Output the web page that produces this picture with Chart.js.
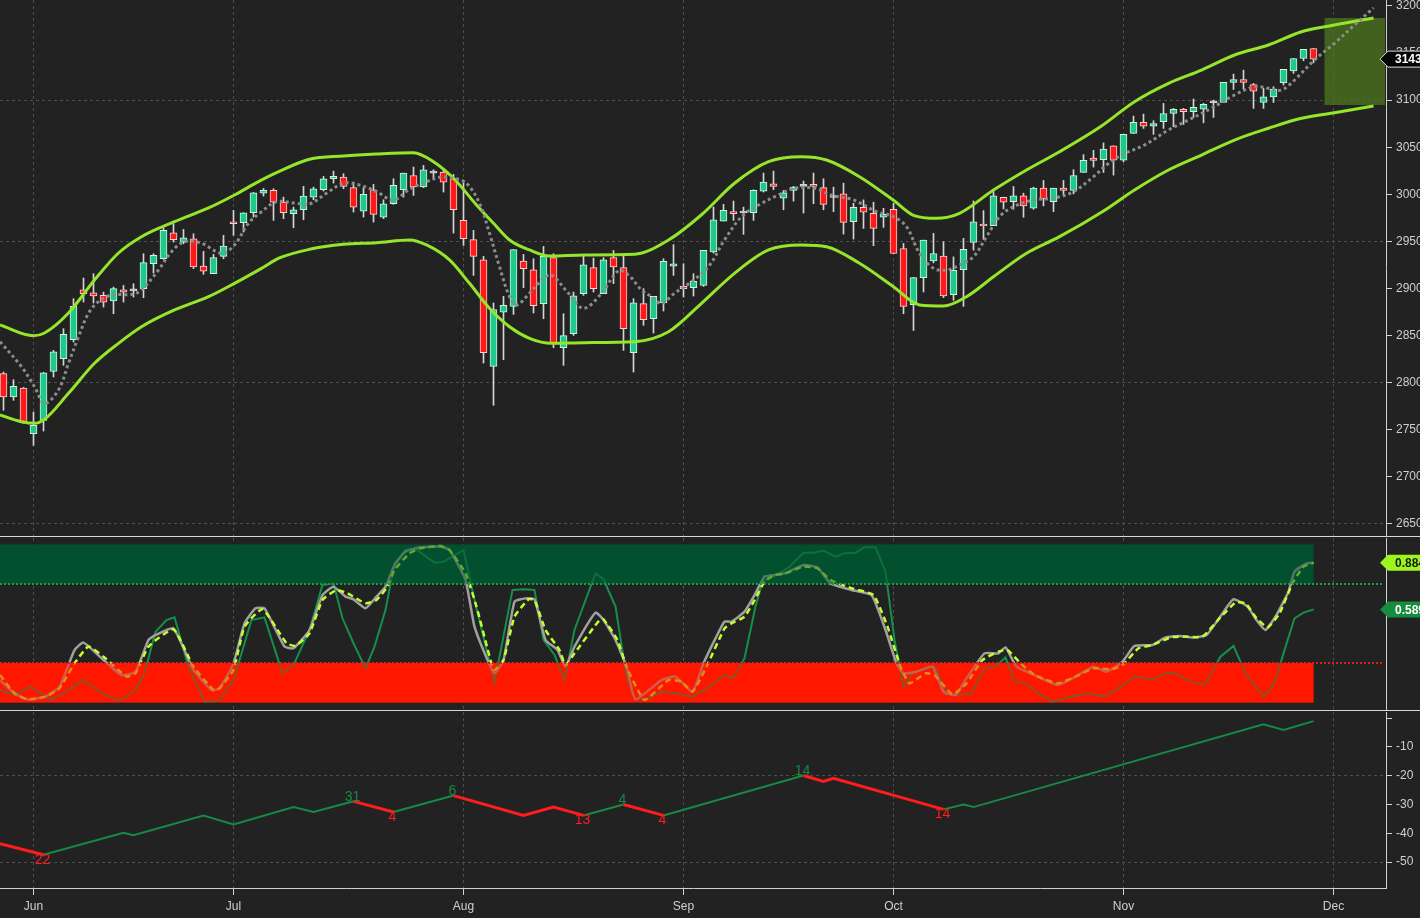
<!DOCTYPE html>
<html>
<head>
<meta charset="utf-8">
<script src="https://cdn.jsdelivr.net/npm/chart.js@4.4.1/dist/chart.umd.min.js"></script>
<style>
html, body { margin:0; padding:0; background:#222222; overflow:hidden; }
#wrap { position:relative; width:1420px; height:918px; background:#222222; }
canvas { position:absolute; left:0; display:block; }
</style>
</head>
<body>
<div id="wrap">
  <canvas id="price" width="1420" height="537" style="top:0px"></canvas>
  <canvas id="stoch" width="1420" height="174" style="top:537px"></canvas>
  <canvas id="zigzag" width="1420" height="207" style="top:711px"></canvas>
</div>
<script>
// ---- data ----
const xMin = -3.35
const xMax = 135.25
const monthIdx = [0, 20, 43, 65, 86, 109, 130]
const monthLabels = ["Jun", "Jul", "Aug", "Sep", "Oct", "Nov", "Dec"]

const priceTicks = [2650, 2700, 2750, 2800, 2850, 2900, 2950, 3000, 3050, 3100, 3150, 3200]
const priceGrid = [2650, 2800, 2950, 3100]
const zzTicks = [-50, -40, -30, -20, -10, 0]
const zzGrid = [-50, -20]

// candles, first one sits at index -3 (Jun 3 = 0)
const candleStart = -3
const opens = [2809.6,2784.8,2794.4,2745.9,2760,2812,2825.5,2845.6,2898.7,2895.5,2892.7,2886.7,2898.7,2897.5,2899.8,2926.3,2931.6,2959.2,2949.3,2952.8,2923.8,2915.7,2934.1,2970.9,2969.8,2980.4,3001.3,3004.1,2991.7,2979.4,2983.6,2997,3004.8,3016.5,3018.3,3007,2982.2,3004.8,2975.8,2990,3004.8,3020,3007.7,3022.5,3023.6,3016.5,2972.3,2951.8,2930.5,2817.3,2875,2881,2929.1,2919.9,2883.9,2932.7,2837.2,2852,2894.5,2922.1,2894.5,2932.7,2922.1,2831.9,2883.9,2867.9,2884.6,2923.8,2902.2,2900.8,2903.3,2938.7,2971.6,2981.5,2980.1,2980.4,3003.4,3011.2,2996,3004.1,3008.4,3010.5,3007,2996.6,3000.5,2970.9,2986.2,2979.8,2975.6,2984.1,2942.5,2882.8,2911.6,2929.4,2934.3,2893.5,2920.1,2948.9,2968.5,2966.7,2996.9,2992.3,2998.3,2985.2,3006.5,2992.3,3006.5,3004,3023.2,3038.5,3036.7,3051.5,3036.3,3064.6,3076.3,3072.4,3077,3085.8,3090.1,3087.6,3090.4,3097.2,3097.5,3118.8,3121.9,3116.6,3097.5,3103.5,3118.4,3131.1,3144.2,3154.8]
const highs = [2811.3,2803.2,2795,2768.9,2811,2834.3,2857.3,2889.2,2911.1,2915.7,2896.2,2901.5,2903.3,2905.1,2936.9,2936.9,2964.5,2968.7,2962.7,2958.1,2939.4,2936.2,2956.4,2982.9,2980.4,3002,3006.2,3005.9,2997,2986.4,3008.4,3007.7,3019,3024.6,3021.8,3013,3007,3010.5,2994.2,3016.5,3022.5,3028.9,3030.7,3026.1,3026.1,3021.1,3014.7,2961.7,2934.1,2884.6,2891.6,2941.2,2936.2,2931.6,2944.7,2936.9,2873.2,2896.2,2934.1,2932.3,2932.7,2940.4,2935.1,2889.2,2899.8,2891.6,2931.6,2946.5,2926.3,2915.7,2940.4,2986.4,2989.3,2992.8,2986.4,3004.8,3022.5,3024.6,3004.1,3008.4,3014,3022.5,3016.5,3007.6,3011.8,2990.5,2994.1,2991.6,2985.2,2990.5,2947.8,2911.6,2951.4,2958.5,2949.6,2933.6,2953.2,2993,2982.7,3003,2997,3008.3,3001.2,3007.6,3014.7,3006.5,3014.7,3026.1,3042.1,3046.7,3054.5,3051.5,3063.6,3083,3085.1,3078.1,3096.5,3091.2,3091.2,3101.1,3096.5,3100,3118.8,3127.6,3131.8,3117.7,3112.4,3114.2,3132.6,3144.2,3153.8,3154.8]
const lows = [2770.7,2781.3,2757,2733.5,2748.7,2806,2818.4,2843.2,2885.6,2884.6,2880.3,2873.2,2885.6,2890.9,2890.2,2916.4,2931,2949.3,2947.5,2921,2915,2915.7,2931.6,2956.4,2959.9,2975.8,2998.1,2972.3,2974.1,2964.5,2973,2994.2,3003.4,3011.9,3005.9,2981.1,2975.8,2970.5,2974.1,2989.3,2997,2998.8,3007,3017.6,3002.4,2958.8,2945.8,2913.9,2820.9,2776,2824.4,2872.5,2900.8,2874,2867.9,2837.2,2818.4,2850.2,2892.7,2896.2,2894.5,2905.1,2834.3,2811.3,2860.9,2852.7,2876.1,2913.9,2890.9,2892,2902.2,2937.6,2971.6,2972.3,2957.4,2972.3,3002.4,3004.8,2983.6,2992.8,2980.1,2990,2983.6,2981.6,2957.8,2952.5,2963.8,2945.4,2964.9,2937.2,2873.2,2855.4,2896.3,2927.2,2890.3,2887.4,2881,2940.7,2952.1,2966.7,2984.5,2984.1,2975.6,2984.1,2987.7,2981.6,2999.4,3000.5,3023.2,3028.9,3023.2,3020.4,3034.5,3064.6,3069.9,3063.6,3069.9,3071.7,3074.2,3081.6,3075.9,3081.6,3097.5,3111.3,3111.7,3091.2,3091.2,3097.5,3115.9,3128.3,3141.8,3139.6]
const closes = [2784.8,2796.1,2757.2,2754.7,2810.6,2832.9,2851.3,2881,2894.5,2892,2885.6,2899.8,2896.2,2897.5,2927.4,2935.1,2961.7,2951.8,2953.9,2922.8,2918.5,2932.7,2945,2968.7,2980.4,3001.6,3004.1,2991.7,2980.4,2983.6,2998.1,3005.9,3016.5,3019,3008.4,2986.4,2999.9,2978.7,2990,3009.4,3022.5,3007.7,3026.1,3022.5,3013,2983.6,2952.8,2934.1,2831.9,2877.5,2882.1,2941.2,2921,2881.7,2934.1,2842.1,2849.9,2892.3,2925.2,2899.8,2930.5,2922.8,2857.3,2884.9,2866.9,2891.6,2928.8,2926.3,2899.8,2907.6,2940.4,2973,2982.9,2979.4,2980.1,3004.1,3013,3008.4,3001.6,3007.7,3008.4,3008.4,2989.3,2996.6,2970.2,2986.2,2980.9,2963.8,2978.8,2937.2,2881,2911.6,2951.4,2937.2,2892,2919.4,2941.5,2970.9,2966.3,2998.3,2991.6,2998.3,2987.7,3006.5,2995.1,3006.5,3004,3020,3036,3036,3048.1,3036.3,3063.6,3076.3,3072.4,3075.2,3085.8,3090.1,3087.6,3092.2,3095.4,3097.2,3118.8,3121.9,3118.8,3109.6,3103.5,3111.7,3132.6,3144.2,3153.8,3143.5]

// envelope and dotted average, [bar index, price]
const bandUpper = [[-3.35,2861.3],[0,2849.9],[1.1,2852.8],[3.5,2874],[6.1,2909],[8.5,2937.7],[10.8,2955],[14.1,2970.9],[17.5,2985.5],[20.1,2999.3],[22.5,3013.4],[24.3,3022.9],[27.6,3037.2],[31,3040.7],[34.3,3042.8],[38,3044.2],[40,3034.6],[42,3017],[44.3,2988.7],[46,2969.2],[47.6,2951.5],[49.6,2940.9],[51.6,2934.5],[55.1,2935.6],[60.1,2936.3],[63.5,2951.5],[66.8,2978.3],[70.1,3011.7],[73.5,3034.6],[76.8,3039.9],[79.3,3036.4],[82.6,3018.7],[86,2993.6],[88,2977.7],[90.3,2974.5],[92.6,2979.8],[96,3004.5],[99.3,3025.8],[102.6,3045.2],[106.8,3072.5],[110.1,3098.3],[113.5,3117.8],[116.8,3131.9],[120.1,3147.9],[123.5,3158.5],[126.8,3172.6],[130.1,3179.7],[134,3187.2]]
const bandLower = [[-3.35,2765.7],[-1.2,2758.6],[0.1,2756.9],[1.1,2761.1],[3.5,2788.7],[6.1,2820.6],[8.5,2841.8],[10.8,2859.4],[14.1,2877.2],[17.5,2891.3],[20.1,2905.5],[22.8,2921.4],[24.6,2932.4],[27.6,2941.6],[31,2946.9],[34.3,2948.6],[37.6,2951.5],[39.3,2946.2],[41.6,2930.3],[43.6,2905.5],[45.6,2879],[47.6,2859.4],[49.6,2847.1],[51.8,2841.8],[55.1,2842.5],[60.1,2843.5],[63.5,2854.1],[66.8,2884.3],[70.1,2916.1],[73.5,2940.9],[76.8,2946.2],[79.3,2944.4],[82.6,2926.8],[86,2901.9],[88.6,2882.5],[91,2881.4],[93.3,2891.3],[96,2912.5],[99.3,2937.4],[102.6,2955],[107,2982.3],[110.1,3004.6],[113.5,3025.8],[116.8,3041.7],[120.1,3057.6],[123.5,3070.1],[126.8,3080.7],[130.1,3086.6],[134,3093.7]]
const maLine = [[-3.35,2843.5],[-1.2,2817],[0.1,2795.8],[1.1,2778.1],[2.5,2792.3],[3.5,2820.6],[4.5,2848.8],[5.5,2873.7],[6.5,2886],[7.8,2893.1],[10.1,2894.2],[11.1,2901.9],[12.5,2919.6],[13.8,2939.1],[15.1,2949.7],[16.8,2948],[18.8,2937.4],[20.1,2946.2],[21.5,2969.2],[22.8,2981.5],[24.3,2992.1],[26.3,2990.5],[27.6,2989.7],[29.3,3001.1],[31,3011.7],[32.6,3009.9],[34.3,3002.8],[36,2994],[37.6,3005.3],[39.3,3013.4],[40.6,3018],[42,3017],[43.3,3011.7],[44.6,2990.5],[45.6,2958.6],[46.6,2923.1],[47.6,2891.3],[48.3,2882.5],[49.6,2894.9],[51,2910.8],[51.8,2914.3],[53.5,2894.9],[55,2879],[56.8,2894.9],[58.5,2918.9],[59.5,2914.3],[60.8,2898.4],[61.8,2891.3],[62.8,2884.3],[64.1,2894.9],[65.8,2907.2],[67.5,2923.1],[69.1,2951.5],[70.8,2976.2],[72.5,2988.6],[74.5,2999.3],[76.1,3006.4],[78.1,3006.4],[79.8,2999],[82,2994],[84.3,2981.5],[86,2976.2],[87.3,2965.6],[88.6,2937.4],[90,2921.4],[91.3,2919.6],[92.6,2924.9],[94,2933.8],[95.3,2955],[96.6,2976.2],[98,2986.8],[100,2994],[102,2995.8],[104,3002.8],[106,3018.7],[107.3,3031.1],[108.8,3041.7],[111.1,3052.3],[113.5,3068.3],[115.5,3078.9],[117.8,3091.3],[120.1,3105.4],[122.1,3114.2],[123.5,3112.5],[124.8,3110.7],[126.1,3121.3],[128.1,3142.6],[130.1,3160.3],[132.1,3179.7],[134,3197.8]]

// target zone at the right end
const targetFrom = 129.1
const targetLow = 3094.8
const targetHigh = 3187.2

// oscillator pane, [bar index, value]
const stochLevels = [0.25, 0.75]
const stochEnd = 128
const stochGray = [[-3.35,0.142],[-1.9,0.058],[-0.6,0.02],[1.2,0.037],[2.6,0.1],[4.1,0.332],[5,0.379],[7,0.269],[8.8,0.174],[10.2,0.195],[11.5,0.396],[12.2,0.427],[14,0.469],[16,0.206],[17.8,0.079],[18.6,0.09],[20,0.248],[21.1,0.501],[22.2,0.596],[23.1,0.596],[25.1,0.354],[26,0.343],[27.6,0.459],[28.9,0.68],[30,0.733],[31.2,0.67],[32,0.653],[33.2,0.596],[34.3,0.67],[35.2,0.733],[36.1,0.87],[37.2,0.955],[38.7,0.982],[40.7,0.986],[41.6,0.965],[43.2,0.775],[44.1,0.48],[45.4,0.269],[46.1,0.185],[47,0.269],[48.1,0.638],[49.2,0.659],[50.1,0.653],[51.2,0.396],[52.4,0.332],[53.2,0.227],[54.1,0.354],[56.2,0.569],[57,0.522],[58.2,0.396],[59.3,0.227],[60.2,0.02],[62.8,0.142],[64.2,0.164],[65.9,0.069],[67,0.248],[68.2,0.406],[69.1,0.512],[69.8,0.512],[71.1,0.575],[72.2,0.691],[73.1,0.796],[74.1,0.807],[75.2,0.818],[77,0.87],[78.4,0.855],[79.7,0.754],[81.8,0.712],[83.8,0.68],[85.2,0.459],[86.3,0.248],[87,0.185],[88.3,0.195],[89.9,0.227],[91,0.069],[92.2,0.047],[93.3,0.153],[95.1,0.311],[96.5,0.311],[97.2,0.349],[98.3,0.227],[100.1,0.174],[102.4,0.111],[104.2,0.164],[106,0.227],[107.3,0.195],[108.9,0.259],[110.1,0.358],[111.9,0.364],[113.2,0.412],[114.6,0.421],[115.9,0.412],[117.3,0.427],[118.9,0.564],[120,0.653],[121.4,0.607],[122.3,0.522],[123.2,0.459],[124.3,0.554],[125.5,0.701],[126.1,0.828],[127.3,0.881],[128,0.885]]
const stochSignal = [[-3.35,0.174],[-1.9,0.058],[-0.6,0.02],[1.2,0.037],[2.6,0.09],[4.1,0.248],[5.5,0.354],[7,0.29],[9.3,0.164],[10.2,0.185],[11.5,0.354],[14,0.463],[16,0.227],[18,0.079],[18.6,0.09],[20,0.206],[21.1,0.48],[22.9,0.59],[25.3,0.375],[26.2,0.358],[27.6,0.438],[28.9,0.649],[30.3,0.712],[31.4,0.691],[33.2,0.628],[34.3,0.649],[35.4,0.733],[36.1,0.839],[37.6,0.944],[38.7,0.976],[40.7,0.99],[41.6,0.965],[43.2,0.818],[44.3,0.607],[45.7,0.269],[46.1,0.206],[47,0.269],[48.1,0.543],[49.5,0.653],[50.1,0.649],[51.2,0.459],[52.6,0.332],[53.2,0.237],[54.1,0.311],[56.6,0.522],[57,0.526],[58.4,0.396],[59.3,0.227],[61.1,0.016],[63.5,0.142],[64.8,0.132],[65.9,0.069],[67.3,0.227],[69.1,0.469],[69.8,0.501],[71.1,0.543],[72.2,0.659],[73.1,0.765],[74.1,0.807],[75.2,0.818],[77,0.86],[78.4,0.849],[79.7,0.775],[81.8,0.723],[84,0.68],[85.4,0.48],[86.7,0.227],[87.6,0.121],[89.2,0.185],[90.1,0.174],[91.9,0.052],[93.3,0.121],[94.9,0.269],[96.5,0.322],[97.4,0.332],[98.7,0.248],[100.1,0.174],[102.4,0.121],[104.2,0.164],[106,0.216],[107.8,0.21],[108.9,0.237],[110.5,0.343],[111.9,0.364],[113.7,0.412],[115,0.417],[116.9,0.417],[118.7,0.539],[120.2,0.632],[121.2,0.628],[122.3,0.533],[123.4,0.476],[124.6,0.564],[125.9,0.754],[127,0.86],[128,0.884]]
const stochFast = [[-3.35,0.079],[-1.9,0.047],[-0.3,0.1],[1.7,0.02],[3,0.058],[5,0.142],[7,0.054],[8.6,0.01],[10.2,0.079],[11.1,0.185],[12.2,0.448],[13.3,0.522],[14.1,0.539],[15.5,0.227],[17.1,0.005],[18.6,0.016],[20,0.142],[21.8,0.522],[23.1,0.539],[24.9,0.185],[26,0.237],[27.6,0.459],[28.9,0.744],[30,0.754],[30.9,0.533],[32,0.375],[33.2,0.216],[34.1,0.354],[35.2,0.585],[36.1,0.881],[37.2,0.965],[38.1,0.976],[40.1,0.885],[41,0.891],[43,0.965],[44.1,0.649],[46.1,0.125],[47.9,0.712],[49,0.716],[50.1,0.712],[51,0.396],[52.1,0.301],[53.1,0.142],[54.1,0.459],[56.2,0.818],[57,0.78],[58.2,0.607],[59.3,0.164],[60.2,0.02],[61.3,0.02],[62.8,0.069],[64.2,0.058],[65.9,0.037],[67.3,0.09],[69.1,0.174],[70,0.153],[71.1,0.28],[72.2,0.607],[72.9,0.765],[74.3,0.807],[75.6,0.86],[77,0.948],[78.1,0.948],[79,0.961],[80.2,0.923],[81.1,0.944],[82.2,0.948],[83.1,0.982],[84.2,0.982],[85.2,0.828],[86.1,0.396],[87,0.1],[87.9,0.185],[89,0.206],[90.1,0.231],[91.3,0.062],[92.4,0.047],[93.8,0.058],[95.1,0.216],[96.2,0.227],[97.2,0.286],[98.1,0.132],[99.2,0.121],[100.5,0.058],[101.9,0.005],[103.7,0.037],[105.5,0.058],[107.1,0.037],[108.7,0.1],[110.1,0.164],[111.9,0.147],[113.2,0.185],[114.1,0.189],[115.7,0.132],[117.1,0.111],[118.7,0.29],[120,0.358],[121.2,0.185],[123,0.037],[124.1,0.121],[125,0.311],[126.1,0.533],[127,0.569],[128,0.589]]

// zigzag pane
const zzIdx = [-3.35, 1, 9, 10, 17, 20, 26, 28, 32, 36, 42, 49, 52, 55, 59, 63, 77, 79, 80, 91, 93, 94, 123, 125, 128]
const zzVal = [-43.6, -47.5, -39.8, -40.7, -33.8, -36.9, -30.9, -32.6, -28.9, -32.6, -26.9, -33.8, -30.9, -33.8, -30, -33.8, -19.9, -22, -20.9, -31.7, -30, -30.9, -2.1, -4.1, -1.0]
const zzLeg = [-1, 1, 1, 1, 1, 1, 1, 1, -1, 1, -1, -1, -1, 1, -1, 1, -1, -1, -1, 1, 1, 1, 1, 1]
const zzLabel = ["", "22", "", "", "", "", "", "", "31", "4", "6", "", "", "13", "4", "4", "14", "", "", "14", "", "", "", "", ""]

// ---- styles ----
const FONT = "'Liberation Sans', Arial, sans-serif"
const gridColor = "#4e4e4e"
const axisColor = "#d0d0d0"
const textColor = "#cfcfcf"
const upFill = "#1fc98b", downFill = "#ff1a1a", dojiFill = "#d6d6d6"
const upEdge = "#d2f2e2", downEdge = "#f6d2d2"
const bandColor = "#95e62b"
const zzUp = "#168a45", zzDown = "#ff1c1c"

Chart.defaults.font.family = FONT
Chart.defaults.font.size = 12
Chart.defaults.animation = false
Chart.defaults.plugins.legend.display = false
Chart.defaults.plugins.tooltip.enabled = false

function pts(list){
    return list.map(p => ({x: p[0], y: p[1]}))
}

function timeAxis(withLabels){
    return {
        type: "linear", min: xMin, max: xMax, offset: false,
        afterBuildTicks: s => { s.ticks = monthIdx.map(v => ({value: v})) },
        afterFit: s => { s.height = withLabels ? 30 : 0; s.paddingLeft = 0; s.paddingRight = 0 },
        ticks: { display: withLabels, color: textColor, padding: 4, maxRotation: 0, autoSkip: false,
                 callback: (v, i) => monthLabels[i] },
        grid: { color: gridColor, offset: false, drawTicks: withLabels, tickLength: 7, tickColor: axisColor },
        border: { display: withLabels, color: axisColor, dash: [3, 3] }
    }
}

function sideAxis(min, max, tickVals, gridVals, fmt, show){
    return {
        position: "right", min: min, max: max,
        afterBuildTicks: s => { s.ticks = tickVals.map(v => ({value: v})) },
        afterFit: s => { s.width = 34; s.paddingTop = 0; s.paddingBottom = 0 },
        ticks: { display: show, color: textColor, padding: 4, callback: fmt },
        grid: { display: show, drawTicks: show, tickLength: 6, tickColor: axisColor,
                color: c => (c.tick && gridVals.includes(c.tick.value)) ? gridColor : "transparent" },
        border: { display: true, color: axisColor, dash: [3, 3] }
    }
}

function drawTag(ctx, tipX, y, fill, stroke, ink, text){
    const h = 16
    ctx.save()
    ctx.beginPath()
    ctx.moveTo(tipX, y)
    ctx.lineTo(tipX + 8, y - h / 2)
    ctx.lineTo(tipX + 60, y - h / 2)
    ctx.lineTo(tipX + 60, y + h / 2)
    ctx.lineTo(tipX + 8, y + h / 2)
    ctx.closePath()
    ctx.fillStyle = fill
    ctx.fill()
    if(stroke){
        ctx.strokeStyle = stroke
        ctx.lineWidth = 1
        ctx.stroke()
    }
    ctx.fillStyle = ink
    ctx.font = "bold 12px " + FONT
    ctx.textBaseline = "middle"
    ctx.textAlign = "left"
    ctx.fillText(text, tipX + 15, y + 1)
    ctx.restore()
}

function hLine(ctx, x1, x2, y, color){
    ctx.save()
    ctx.strokeStyle = color
    ctx.lineWidth = 1
    ctx.beginPath()
    ctx.moveTo(x1, Math.round(y) + 0.5)
    ctx.lineTo(x2, Math.round(y) + 0.5)
    ctx.stroke()
    ctx.restore()
}

// ---- price pane ----
const candleX = opens.map((o, i) => candleStart + i)
const bodyFill = opens.map((o, i) => closes[i] > o ? upFill : closes[i] < o ? downFill : dojiFill)
const bodyEdge = opens.map((o, i) => closes[i] > o ? upEdge : closes[i] < o ? downEdge : dojiFill)

const pricePane = {
    id: "pricePane",
    beforeDatasetsDraw(chart){
        const {ctx, chartArea, scales: {x, y}} = chart
        const left = x.getPixelForValue(targetFrom)
        const top = y.getPixelForValue(targetHigh)
        const bottom = y.getPixelForValue(targetLow)
        ctx.save()
        ctx.fillStyle = "rgba(78,118,30,0.75)"
        ctx.fillRect(left, top, chartArea.right - 1 - left, bottom - top)
        ctx.restore()
    },
    afterDraw(chart){
        const {ctx, chartArea, scales: {y}} = chart
        hLine(ctx, 0, chart.width, chartArea.bottom, "#d8d8d8")
        const last = closes[closes.length - 1]
        drawTag(ctx, chartArea.right - 6, y.getPixelForValue(last), "#050505", "#d8d8d8", "#ffffff", last.toFixed(2))
    }
}

new Chart(document.getElementById("price"), {
    type: "bar",
    data: {
        datasets: [
            { type: "line", data: pts(maLine), borderColor: "#8c8c8c", borderWidth: 3, borderDash: [3, 3],
              pointRadius: 0, tension: 0.35, order: -2 },
            { type: "line", data: pts(bandUpper), borderColor: bandColor, borderWidth: 3,
              pointRadius: 0, cubicInterpolationMode: "monotone", order: -1 },
            { type: "line", data: pts(bandLower), borderColor: bandColor, borderWidth: 3,
              pointRadius: 0, cubicInterpolationMode: "monotone", order: -1 },
            { data: candleX.map((x, i) => ({x: x, y: [opens[i], closes[i]]})),
              backgroundColor: bodyFill, borderColor: bodyEdge, borderWidth: 1, borderSkipped: false,
              barThickness: 7, minBarLength: 2, grouped: false, order: 0 },
            { data: candleX.map((x, i) => ({x: x, y: [lows[i], highs[i]]})),
              backgroundColor: "#d4d4d4", borderWidth: 0, barThickness: 1, grouped: false, order: 1 }
        ]
    },
    options: {
        responsive: false,
        devicePixelRatio: 1,
        layout: { padding: { left: 0, right: 0, top: 0, bottom: 1 } },
        scales: {
            x: timeAxis(false),
            y: sideAxis(2637.26, 3206.26, priceTicks, priceGrid, v => v.toFixed(2), true)
        }
    },
    plugins: [pricePane]
})

// ---- oscillator pane ----
function stochBands(chart, alpha){
    const {ctx, chartArea, scales: {x, y}} = chart
    const right = x.getPixelForValue(stochEnd)
    ctx.save()
    ctx.globalAlpha = alpha
    ctx.fillStyle = "#02502e"
    ctx.fillRect(chartArea.left, y.getPixelForValue(1), right - chartArea.left, y.getPixelForValue(stochLevels[1]) - y.getPixelForValue(1))
    ctx.fillStyle = "#ff1700"
    ctx.fillRect(chartArea.left, y.getPixelForValue(stochLevels[0]), right - chartArea.left, y.getPixelForValue(0) - y.getPixelForValue(stochLevels[0]))
    ctx.restore()
}

const stochPane = {
    id: "stochPane",
    beforeDatasetsDraw(chart){ stochBands(chart, 1) },
    afterDatasetsDraw(chart){
        stochBands(chart, 0.5)
        const {ctx, chartArea, scales: {y}} = chart
        ctx.save()
        ctx.lineWidth = 2
        ctx.setLineDash([2, 2])
        ctx.strokeStyle = "#1c9a4e"
        ctx.beginPath()
        ctx.moveTo(chartArea.left, Math.round(y.getPixelForValue(stochLevels[1])))
        ctx.lineTo(chartArea.right - 3, Math.round(y.getPixelForValue(stochLevels[1])))
        ctx.stroke()
        ctx.strokeStyle = "#d42222"
        ctx.beginPath()
        ctx.moveTo(chartArea.left, Math.round(y.getPixelForValue(stochLevels[0])))
        ctx.lineTo(chartArea.right - 3, Math.round(y.getPixelForValue(stochLevels[0])))
        ctx.stroke()
        ctx.restore()
    },
    afterDraw(chart){
        const {ctx, chartArea, scales: {y}} = chart
        hLine(ctx, 0, chart.width, chartArea.bottom + 1, "#d8d8d8")
        const sig = stochSignal[stochSignal.length - 1][1]
        const fast = stochFast[stochFast.length - 1][1]
        drawTag(ctx, chartArea.right - 6, y.getPixelForValue(sig), "#9cf71e", null, "#1a1a1a", sig.toFixed(3))
        drawTag(ctx, chartArea.right - 6, y.getPixelForValue(fast), "#168c3e", null, "#ffffff", fast.toFixed(3))
    }
}

new Chart(document.getElementById("stoch"), {
    type: "line",
    data: {
        datasets: [
            { data: pts(stochSignal), borderColor: "#c2ff2e", borderWidth: 2.5, borderDash: [6, 4], pointRadius: 0, tension: 0.15 },
            { data: pts(stochGray), borderColor: "#a0a0a0", borderWidth: 2.5, pointRadius: 0, tension: 0.15 },
            { data: pts(stochFast), borderColor: "#14904a", borderWidth: 2, pointRadius: 0, tension: 0 }
        ]
    },
    options: {
        responsive: false,
        devicePixelRatio: 1,
        layout: { padding: { left: 0, right: 0, top: 1, bottom: 2 } },
        scales: {
            x: timeAxis(false),
            y: sideAxis(-0.041, 1.041, [0, 1], [], v => "", false)
        }
    },
    plugins: [stochPane]
})

// ---- zigzag pane ----
const zigzagPane = {
    id: "zigzagPane",
    afterDatasetsDraw(chart){
        const {ctx, scales: {x, y}} = chart
        ctx.save()
        ctx.font = "14px " + FONT
        ctx.textAlign = "center"
        ctx.textBaseline = "middle"
        zzLabel.forEach((t, i) => {
            if(!t) return
            const up = zzLeg[i - 1] > 0
            ctx.fillStyle = up ? zzUp : zzDown
            ctx.fillText(t, x.getPixelForValue(zzIdx[i]) - 1, y.getPixelForValue(zzVal[i]) + (up ? -4 : 5))
        })
        ctx.restore()
    }
}

new Chart(document.getElementById("zigzag"), {
    type: "line",
    data: {
        datasets: [{
            data: zzIdx.map((x, i) => ({x: x, y: zzVal[i]})),
            borderColor: zzUp, borderWidth: 2, pointRadius: 0, tension: 0,
            segment: {
                borderColor: c => zzLeg[c.p0DataIndex] > 0 ? zzUp : zzDown,
                borderWidth: c => zzLeg[c.p0DataIndex] > 0 ? 2 : 3
            }
        }]
    },
    options: {
        responsive: false,
        devicePixelRatio: 1,
        layout: { padding: { left: 0, right: 0, top: 1, bottom: 0 } },
        scales: {
            x: timeAxis(true),
            y: sideAxis(-59.04, 2.17, zzTicks, zzGrid, v => v === 0 ? "" : String(v), true)
        }
    },
    plugins: [zigzagPane]
})
</script>
</body>
</html>
